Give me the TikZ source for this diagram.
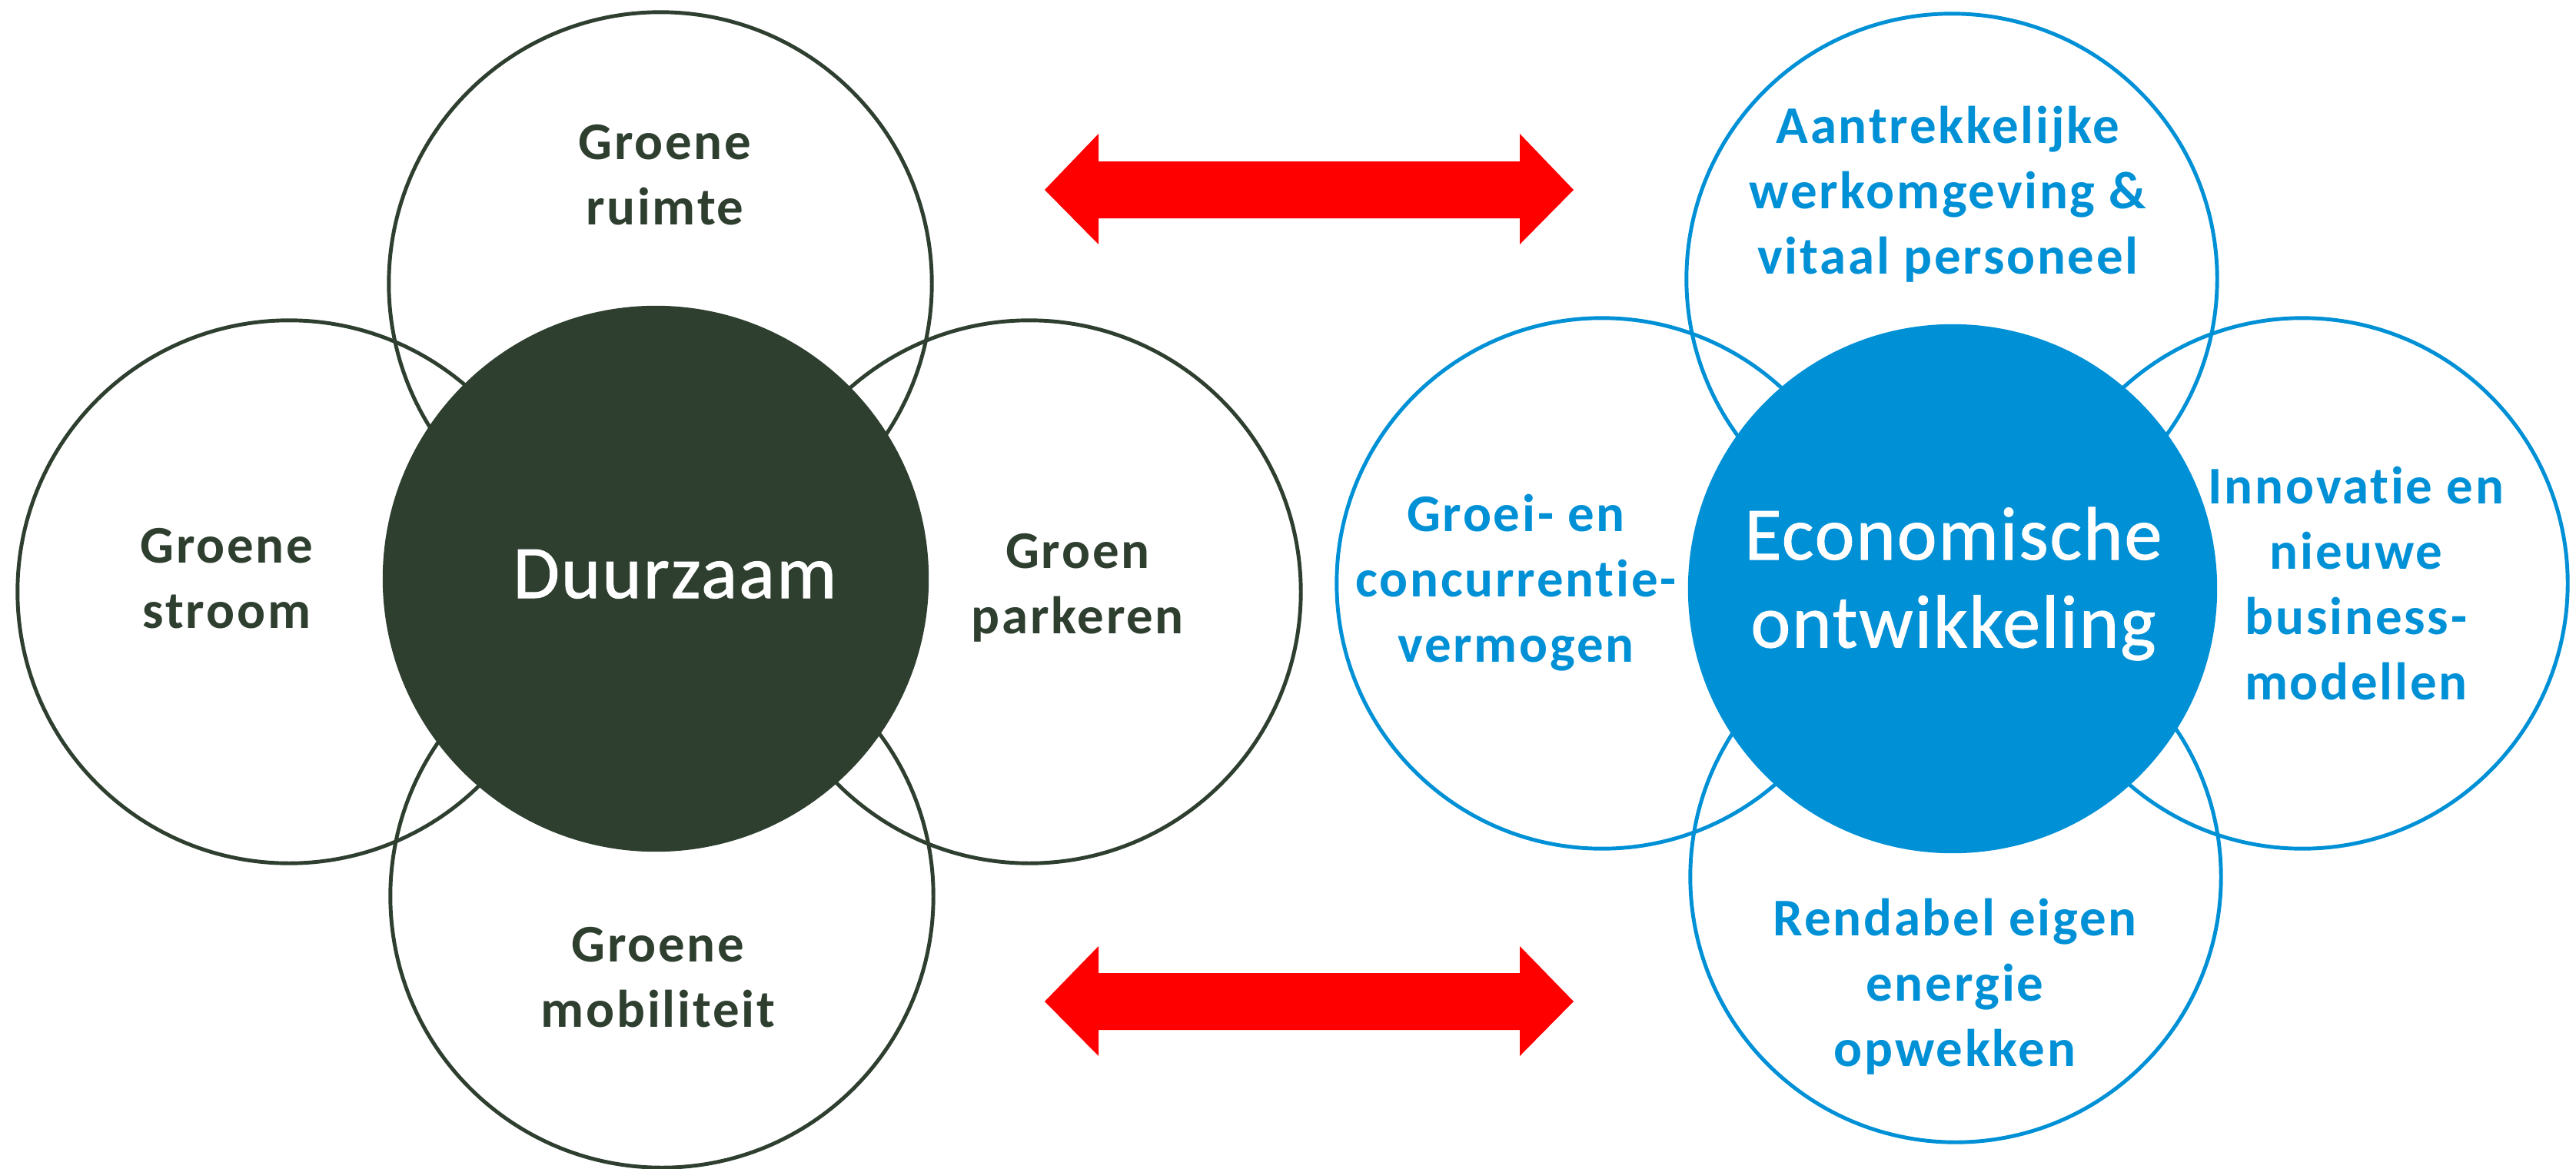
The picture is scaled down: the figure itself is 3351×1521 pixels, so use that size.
\documentclass[tikz,border=0pt]{standalone}
\usepackage{fontspec}
\setmainfont{Carlito}
\newfontfamily\outerfont{Carlito}[LetterSpace=4.0,Ligatures=NoCommon]
\newfontfamily\corefont{Carlito}[LetterSpace=2.0,Ligatures=NoCommon,FakeBold=1]
\definecolor{dgreen}{RGB}{46,63,48}
\definecolor{eblue}{RGB}{0,144,214}
\definecolor{ared}{RGB}{255,0,0}
\newcommand{\lbl}[1]{\begin{tabular}[t]{@{}c@{}}#1\end{tabular}}
\begin{document}
\begin{tikzpicture}[x=0.01cm,y=-0.01cm,
  gring/.style={circle,draw=dgreen,line width=1.4pt,inner sep=0pt,minimum size=7.06cm},
  bring/.style={circle,draw=eblue,line width=1.4pt,inner sep=0pt,minimum size=6.9cm},
  gcore/.style={circle,fill=dgreen,inner sep=0pt,minimum size=7.1cm},
  bcore/.style={circle,fill=eblue,inner sep=0pt,minimum size=6.88cm},
  gtxt/.style={anchor=base,inner sep=0pt,text=dgreen,font=\outerfont\fontsize{19.6pt}{24.2pt}\selectfont\bfseries},
  btxt/.style={anchor=base,inner sep=0pt,text=eblue,font=\outerfont\fontsize{19.6pt}{24.2pt}\selectfont\bfseries},
  ctxt/.style={anchor=base,inner sep=0pt,text=white,font=\corefont\fontsize{27.9pt}{32.7pt}\selectfont},
  dblarrow/.style={fill=ared}]
\useasboundingbox (0,0) rectangle (3351,1521);
% left group
\node[gring] (gtop) at (859,369) {};
\node[gring] (gleft) at (376,770) {};
\node[gring] (gright) at (1339,770) {};
\node[gring] (gbot) at (861,1166) {};
\node[gcore] (gcenter) at (853,753) {};
\node[gtxt] (tgtop) at (865,207) {\lbl{Groene\\ruimte}};
\node[gtxt] (tgleft) at (295,732) {\lbl{Groene\\stroom}};
\node[gtxt] (tgright) at (1402,739) {\lbl{Groen\\parkeren}};
\node[gtxt] (tgbot) at (856,1251) {\lbl{Groene\\mobiliteit}};
\node[ctxt] (tgcenter) at (878,778) {Duurzaam};
% right group
\node[bring] (btop) at (2539,363) {};
\node[bring] (bleft) at (2084,759) {};
\node[bring] (bright) at (2995,759) {};
\node[bring] (bbot) at (2544,1141) {};
\node[bcore] (bcenter) at (2540,766) {};
\node[btxt] (tbtop) at (2534,186) {\lbl{Aantrekkelijke\\werkomgeving \&\\vitaal personeel}};
\node[btxt] (tbleft) at (1972,691) {\lbl{Groei- en\\concurrentie-\\vermogen}};
\node[btxt] (tbright) at (3065,655) {\lbl{Innovatie en\\nieuwe\\business-\\modellen}};
\node[btxt] (tbbot) at (2543,1217) {\lbl{Rendabel eigen\\energie\\opwekken}};
\node[ctxt] (tbcenter) at (2541,728) {\lbl{Economische\\[-0.15pt]ontwikkeling}};
% arrows
\fill[dblarrow] (1359,247) -- (1429,174) -- (1429,210) -- (1977,210) -- (1977,174) -- (2047,247) -- (1977,318) -- (1977,284) -- (1429,284) -- (1429,318) -- cycle;
\fill[dblarrow] (1359,1303) -- (1429,1231) -- (1429,1266) -- (1977,1266) -- (1977,1231) -- (2047,1303) -- (1977,1374) -- (1977,1340) -- (1429,1340) -- (1429,1374) -- cycle;
\end{tikzpicture}
\end{document}
